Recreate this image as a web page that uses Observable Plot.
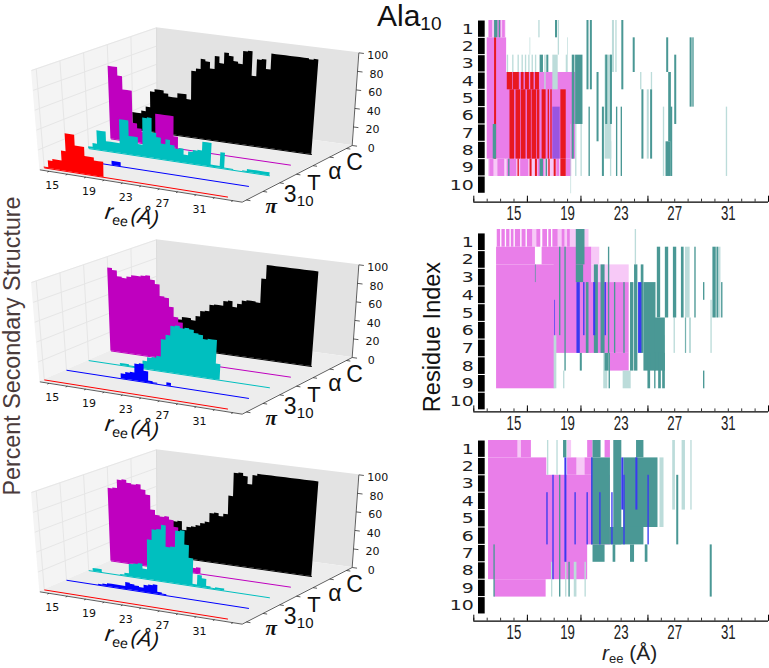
<!DOCTYPE html>
<html><head><meta charset="utf-8">
<script src="https://cdn.jsdelivr.net/npm/d3@7"></script>
<script src="https://cdn.jsdelivr.net/npm/@observablehq/plot@0.6"></script>
<style>
html,body{margin:0;padding:0;background:#fff}
#page{position:relative;width:769px;height:668px;overflow:hidden;font-family:"Liberation Sans",sans-serif}
#page svg{position:absolute;overflow:visible}
.lbl{position:absolute;white-space:nowrap;line-height:1}
</style></head><body><div id="page">
<div class="lbl" style="left:377px;top:1px;font-size:30px;color:#111">Ala<sub style="font-size:19px;vertical-align:-4px;line-height:0">10</sub></div>
<div class="lbl" style="left:13px;top:346px;font-size:23.3px;color:#4a3b3b;transform:translate(-50%,-50%) rotate(-90deg)">Percent Secondary Structure</div>
<div class="lbl" style="left:433px;top:337px;font-size:23.5px;color:#111;transform:translate(-50%,-50%) rotate(-90deg)">Residue Index</div>
<div class="lbl" style="left:602px;top:642px;font-size:21px;color:#222"><i>r</i><sub style="font-size:13px;vertical-align:-3px;line-height:0">ee</sub> (Å)</div>
</div>
<script>
// ---------- Left panels: percent per 0.5 Å bin, r_ee 13..33 ----------
const binStart = 13, binWidth = 0.5;
const structures = ["π","3₁₀","T","α","C"];
const black1=[18,18,21,26,43,46,46,43,40,40,45,45,40,71,74,85,83,76,90,83,95,92,87,85,99,100,74,92,93,83,100,100,100,100,100,100,100,100,99,100];
const magenta1=[77,77,68,54,54,20,15,12,5,5,33,33,33,33,12,0,0,0,0,0,0,0,0,0,0,0,0,0,0,0,0,0,0,0,0,0,0,0,0,0];
const cyan1=[2,6,20,20,10,10,10,35,35,19,19,12,40,41,26,22,16,21,16,13,14,8,12,14,15,24,24,2,2,16,1,1,0,0,1,3,3,3,3,3];
const blue1=[0,0,0,0,0,0,0,0,0,0,4,4,0,0,0,0,0,0,0,0,0,0,0,0,0,0,0,0,0,0,0,0,0,0,0,0,0,0,0,0];
const red1=[1,8,10,10,20,38,38,27,27,18,18,15,15,0,0,0,0,0,0,0,0,0,0,0,0,0,0,0,0,0,0,0,0,0,0,0,0,0,0,0];
const black2=[0,0,0,0,0,5,10,15,20,25,30,33,33,31,36,42,43,50,51,51,56,57,51,55,59,60,60,59,85,100,100,100,100,100,100,100,100,100,100,100];
const magenta2=[88,86,80,79,81,83,83,84,85,81,77,65,64,55,45,40,25,0,0,0,0,0,0,0,0,0,0,0,0,0,0,0,0,0,0,0,0,0,0,0];
const cyan2=[0,0,0,0,0,0,0,2,2,1,1,4,8,12,13,15,33,38,48,49,47,48,47,44,43,39,40,40,16,0,0,0,0,0,0,0,0,0,0,0];
const blue2=[0,0,0,0,0,0,0,0,0,0,0,0,5,7,8,17,18,11,2,1,0,0,3,0,0,0,0,0,0,0,0,0,0,0,0,0,0,0,0,0];
const red2=[0,0,0,0,0,0,0,0,0,0,0,0,0,0,0,0,0,0,0,0,0,0,0,0,0,0,0,0,0,0,0,0,0,0,0,0,0,0,0,0];
const black3=[0,0,0,0,0,10,20,30,35,38,39,30,34,35,37,40,42,52,53,50,53,73,98,99,96,88,98,100,100,100,100,100,100,100,100,100,100,100,100,100];
const magenta3=[77,78,87,88,85,84,85,80,75,60,55,54,55,52,45,27,15,5,5,6,0,0,0,0,0,0,0,0,0,0,0,0,0,0,0,0,0,0,0,0];
const cyan3=[0,3,3,0,0,0,0,1,3,13,14,15,10,41,52,53,58,36,37,54,55,41,28,2,12,9,2,1,2,2,0,0,0,0,0,0,0,0,0,0];
const blue3=[0,0,0,0,0,0,0,1,2,3,3,3,3,7,6,5,4,7,8,9,2,1,0,0,0,0,0,0,0,0,0,0,0,0,0,0,0,0,0,0];
const red3=[0,0,0,0,0,0,0,0,0,0,0,0,0,0,0,0,0,0,0,0,0,0,0,0,0,0,0,0,0,0,0,0,0,0,0,0,0,0,0,0];
const seriesColors=["#ff0000","#0000ff","#00bfbf","#bf00bf","#000000"];
const ree3dTicks=[15,19,23,27,31];
const pctTicks=[0,20,40,60,80,100];

// ---------- Right panels: stripes [r_ee from, r_ee to, residue from, residue to] ----------
const residues=[1,2,3,4,5,6,7,8,9,10];
const reeTicks=[15,19,23,27,31];
const C={pale:"#f7c9f7",pink:"#e97ee9",paleTeal:"#bcdcda",teal:"#4a9895",red:"#e81820",blue:"#3a3af0",purple:"#9a55e0"};
const p1Pale=[[13.1,14.4,1,1],[13.1,14.4,9,9],[14.4,19.3,9,9]];
const p1Pink=[[13.15,13.4,1,1],[13.8,14.05,1,1],[14.15,14.35,1,1],[13.2,13.5,9,9],[13.8,14.3,9,9],[13,14.45,2,8],[14.4,19.6,4,8],[14.5,15.2,9,9],[15.5,16.1,9,9],[16.8,17.3,9,9],[18.2,18.4,9,9],[18.9,19.3,9,9]];
const p1PaleTeal=[[16.85,16.95,1,1],[18.3,18.4,1,2],[22.35,22.5,1,3],[22.6,22.7,1,3],[21.8,22.3,3,8],[16.2,16.25,2,2],[19,19.05,2,3],[15.3,15.4,3,3],[15.6,15.7,3,3],[15.85,15.95,3,3],[16.1,16.2,3,3],[16.35,16.45,3,3],[16.6,16.7,3,3],[14.5,14.6,3,3],[14.9,15,3,3],[17.9,18.3,3,4],[18.9,19,3,3],[17.3,17.4,3,4],[24.95,25.1,5,8],[26.15,26.25,6,9],[30.85,30.95,6,9],[24.45,24.55,4,4],[25.25,25.35,4,4],[19.25,19.3,7,10],[20,20.1,7,9],[19.6,19.7,7,9],[22.2,22.3,8,9]];
const p1Red=[[14.7,15.05,5,8],[15.15,15.5,5,8],[15.55,15.9,5,8],[16,16.3,5,8],[16.35,16.7,5,8],[16.75,16.93,5,8],[14.5,14.9,4,4],[14.95,15.4,4,4],[15.55,15.75,4,4],[15.85,16.15,4,4],[16.25,16.5,4,4],[16.6,16.9,4,4],[17.1,17.4,5,8],[17.55,17.65,5,8],[17.75,17.85,5,8],[18.5,18.9,5,8],[13.55,13.7,2,8],[15.3,15.4,9,9],[16.2,16.35,9,9],[16.6,16.75,9,9],[17.6,17.7,9,9],[18,18.15,9,9],[18.5,18.9,9,9]];
const p1Teal=[[20.45,20.6,1,4],[20.7,20.85,1,4],[23.05,23.2,1,4],[18.1,18.25,1,1],[23.9,24.05,2,3],[26.4,26.55,2,3],[28.15,28.3,2,5],[28.35,28.45,2,5],[27,27.15,3,6],[19.35,19.55,3,6],[19.6,20.15,3,6],[21.2,21.35,4,7],[26.55,26.75,4,7],[24.55,24.7,5,8],[25.2,25.35,5,8],[21.6,21.75,6,9],[20.6,20.7,6,9],[22.65,22.75,6,9],[23,23.1,6,9],[22.2,22.35,3,6],[21.85,22,3,6],[26.7,26.85,6,9],[26.35,26.7,8,9],[16.95,17.2,3,3],[17.45,17.6,3,3],[16.95,17.2,9,9],[13.45,13.7,7,8],[13.55,13.8,1,1],[13.9,14,1,1],[19.35,19.5,7,8],[14.6,14.7,9,9],[17.4,17.5,9,9]];
const p1Blue=[];
const p1Purple=[[17.9,18.45,6,8]];
const p2Pale=[[16.4,16.7,1,1],[18.3,20.6,1,1],[20.8,23.6,3,3],[20.8,21.4,2,2]];
const p2Pink=[[13.75,14,1,1],[14.1,14.35,1,1],[14.45,14.7,1,1],[14.8,15,1,1],[15.1,15.5,1,1],[15.6,15.9,1,1],[16,16.4,1,1],[16.7,17,1,1],[17.15,17.5,1,1],[17.6,17.8,1,1],[17.9,18.3,1,1],[18.6,18.8,1,1],[19,19.2,1,1],[13.7,18.05,3,9],[13.7,16.6,2,2],[17.1,18.05,2,2],[18,20.8,2,7],[20.7,23.6,4,7],[22.2,23.6,8,8]];
const p2PaleTeal=[[21.7,22,8,9],[29.7,29.8,5,7],[18,18.2,7,9],[24.05,24.15,1,2],[27.8,27.9,6,7],[28.1,28.25,6,7],[23.15,23.75,9,9],[27.8,28.15,2,5],[26.95,27.05,6,7],[30.35,30.45,2,5],[26.2,26.3,7,8],[18.7,18.8,9,9]];
const p2Red=[];
const p2Teal=[[19.65,20.3,1,2],[19.65,20.2,3,3],[24.7,25.6,4,8],[25.5,26.3,6,8],[25.7,25.95,2,5],[26.3,26.55,2,5],[26.9,27.15,2,5],[27.5,27.7,2,5],[28.5,28.6,2,5],[29.85,30.1,2,5],[30.15,30.3,2,5],[30.5,30.6,4,5],[22.05,22.15,2,7],[21.5,21.8,3,7],[23.7,23.95,4,8],[24,24.25,3,8],[22.1,22.2,8,9],[25,25.2,8,9],[25.5,25.6,8,9],[25.8,26,8,9],[26.1,26.3,8,9],[29.15,29.25,9,9],[29.15,29.25,4,4],[18.8,18.9,2,8],[19.95,20.1,8,8],[18.4,18.5,2,6],[21,21.3,3,7],[20.4,20.6,4,7],[24.5,24.7,3,7],[23.2,23.3,4,7],[22.5,22.6,4,7],[16.6,16.65,3,3],[21.8,22.1,8,8],[27.8,27.85,6,7]];
const p2Blue=[[19.7,19.95,4,7],[20.95,21.1,4,6],[24.3,24.55,4,7],[20.2,20.3,4,6],[18.05,18.1,5,6],[21.8,21.9,4,6]];
const p2Purple=[];
const p3Pale=[[15.3,15.55,1,1],[19.7,20.3,2,2],[19,19.3,1,1]];
const p3Pink=[[13.1,15.3,1,1],[15.55,16.3,1,1],[13.1,17.45,2,8],[17.4,20.5,3,8],[19,19.7,2,2],[20.3,20.8,2,2],[20.45,22.2,3,6],[13.55,17.4,9,9],[20.5,20.9,1,1],[21.8,22.2,1,1]];
const p3PaleTeal=[[26.85,27.05,1,4],[27.55,27.8,1,4],[28.2,28.3,1,4],[25.9,26.2,2,5],[17.5,17.6,1,2],[18.2,18.3,1,2],[19.5,19.7,8,9],[20.3,20.4,8,9],[17.8,17.9,8,9],[18.85,18.95,8,9],[22.6,22.7,5,6]];
const p3Red=[];
const p3Teal=[[20.8,22.2,2,6],[20.9,21.5,1,1],[22.45,23.05,1,6],[23.2,25.75,2,5],[22.2,24.7,6,6],[24.15,24.7,1,1],[13.5,13.6,7,9],[29.65,29.8,7,9],[27.15,27.3,3,6],[18.7,18.95,1,1],[20.9,21.8,7,7],[22.4,22.6,7,7],[23.7,24,7,7],[24.8,25,7,7],[18.4,18.5,3,9],[19.1,19.2,8,9]];
const p3Blue=[[17.45,17.55,4,6],[17.9,18,3,8],[18.8,18.95,2,7],[19.55,19.65,4,6],[20.45,20.55,4,6],[20.8,20.9,2,6],[21.4,21.5,4,6],[22.3,22.4,4,6],[23.05,23.2,2,4],[23.2,23.3,3,6],[24.1,24.25,2,4],[25,25.1,3,6]];
const p3Purple=[];

const page=document.getElementById("page");
const font="Liberation Sans";

// ---- 3-D view of the box: the eight corners of the axes cube as seen in the picture ----
const reeLim=[13,35], sLim=[-0.2,5.08], pctLim=[0,100];
const corner={A:[118,508],B:[725,605],C:[1055,435],D:[470,355],At:[93,210],Bt:[765,295],Ct:[1075,157],Dt:[468,82]};
const mix=(a,b,t)=>[a[0]+(b[0]-a[0])*t,a[1]+(b[1]-a[1])*t];
function proj(r,s,p){
  const u=(r-reeLim[0])/(reeLim[1]-reeLim[0]), v=(s-sLim[0])/(sLim[1]-sLim[0]), w=p/100;
  const low=mix(mix(corner.A,corner.B,u),mix(corner.D,corner.C,u),v);
  const high=mix(mix(corner.At,corner.Bt,u),mix(corner.Dt,corner.Ct,u),v);
  return mix(low,high,w);
}
const quad=(p,q,r,t,fill)=>Plot.area([[p,t],[q,r]],{x1:d=>d[0][0],y1:d=>d[0][1],x2:d=>d[1][0],y2:d=>d[1][1],fill});
const seg=(a,b,stroke,strokeWidth=1)=>Plot.link([[a,b]],{x1:d=>d[0][0],y1:d=>d[0][1],x2:d=>d[1][0],y2:d=>d[1][1],stroke,strokeWidth});

function panel3d(top,series){
  const [r0,r1]=reeLim,[s0,s1]=sLim;
  const marks=[
    quad(proj(r0,s0,0),proj(r0,s1,0),proj(r0,s1,100),proj(r0,s0,100),"#f4f4f4"),
    quad(proj(r0,s1,0),proj(r1,s1,0),proj(r1,s1,100),proj(r0,s1,100),"#e3e3e3"),
    quad(proj(r0,s0,0),proj(r1,s0,0),proj(r1,s1,0),proj(r0,s1,0),"#ededed")
  ];
  for(const s of [0,1,2,3,4]) marks.push(seg(proj(r0,s,0),proj(r0,s,100),"#e6e6e6",1));
  for(const p of [20,40,60,80,100]) marks.push(seg(proj(r0,s0,p),proj(r0,s1,p),"#e6e6e6",1));
  marks.push(seg(proj(r0,s1,0),proj(r0,s1,100),"#dcdcdc",1));
  // series, back (C) to front (π)
  for(let s=4;s>=0;s--){
    const vals=series[s], pts=[];
    vals.forEach((v,i)=>{
      const a=binStart+i*binWidth,b=a+binWidth;
      pts.push({base:proj(a,s,0),top:proj(a,s,v)},{base:proj(b,s,0),top:proj(b,s,v)});
    });
    marks.push(Plot.area(pts,{x1:d=>d.base[0],y1:d=>d.base[1],x2:d=>d.top[0],y2:d=>d.top[1],fill:seriesColors[s]}));
    marks.push(seg(proj(binStart,s,0),proj(binStart+40*binWidth,s,0),seriesColors[s],1));
  }
  // edges and ticks
  marks.push(seg(proj(r0,s0,0),proj(r1,s0,0),"#333",0.8),seg(proj(r1,s0,0),proj(r1,s1,0),"#333",0.8),seg(proj(r1,s1,0),proj(r1,s1,100),"#333",0.8));
  for(let r=14;r<=34;r+=2) marks.push(seg(proj(r,s0,0),proj(r,s0-0.08,0),"#333",0.8));
  for(const s of [0,0.8,1.6,2.4,3.2,4,4.8]) marks.push(seg(proj(r1,s,0),proj(r1+0.45,s,0),"#333",0.8));
  for(const p of pctTicks) marks.push(seg(proj(r1,s1,p),proj(r1+0.55,s1,p),"#333",0.8));
  const txt=(data,o)=>Plot.text(data,{fontFamily:font,fill:"#111",...o});
  marks.push(txt(ree3dTicks,{x:d=>proj(d,s0,0)[0],y:d=>proj(d,s0,0)[1],text:d=>String(d),dx:-6,dy:13,fontSize:11,fontFamily:"DejaVu Sans"}));
  marks.push(txt(pctTicks,{x:d=>proj(r1,s1,d)[0],y:d=>proj(r1,s1,d)[1],text:d=>String(d),dx:19,dy:3,fontSize:11,fontFamily:"DejaVu Sans"}));
  const right=(s)=>proj(r1,s,0);
  [[4,"C",25,6,23],[3,"α",26,4,23],[2,"T",26,4,22],[1,"3",23,5,23]].forEach(([s,t,dx,dy,fontSize])=>
    marks.push(txt([s],{x:d=>right(d)[0],y:d=>right(d)[1],text:()=>t,dx,dy,fontSize})));
  marks.push(txt([1],{x:d=>right(d)[0],y:d=>right(d)[1],text:()=>"10",dx:38,dy:12,fontSize:15}));
  marks.push(txt([0],{x:d=>right(d)[0],y:d=>right(d)[1],text:()=>"π",dx:25,dy:6,fontSize:21,fontWeight:"bold",fontStyle:"italic",fontFamily:"Liberation Serif"}));
  const mid=proj(24,s0,0);
  marks.push(txt([mid],{x:d=>d[0],y:d=>d[1],text:()=>"r",dx:-32,dy:26,fontSize:23,fontStyle:"italic",rotate:8}));
  marks.push(txt([mid],{x:d=>d[0],y:d=>d[1],text:()=>"ee",dx:-21,dy:35,fontSize:14,rotate:8}));
  marks.push(txt([mid],{x:d=>d[0],y:d=>d[1],text:()=>"(Å)",dx:4,dy:31,fontSize:21,fontStyle:"italic",rotate:8}));
  const svg=Plot.plot({width:400,height:240,margin:0,style:{background:"transparent",overflow:"visible"},
    x:{type:"linear",domain:[0,1200],range:[0,400],axis:null},
    y:{type:"linear",domain:[0,720],range:[0,240],axis:null},marks});
  svg.style.left="0px";svg.style.top=top+"px";
  page.appendChild(svg);
}
panel3d(0,[red1,blue1,cyan1,magenta1,black1]);
panel3d(212,[red2,blue2,cyan2,magenta2,black2]);
panel3d(422,[red3,blue3,cyan3,magenta3,black3]);

// ---- Right panels ----
function stripePanel(cfg){
  const layers=[[cfg.pale,C.pale],[cfg.pink,C.pink],[cfg.paleTeal,C.paleTeal],[cfg.red,C.red],[cfg.teal,C.teal],[cfg.purple,C.purple],[cfg.blue,C.blue]];
  const height=cfg.axisY-cfg.top+30+5;
  const marks=[];
  for(const [rows,fill] of layers) marks.push(Plot.rect(rows,{x1:d=>d[0],x2:d=>d[1],y1:d=>d[2],y2:d=>d[3]+1,fill}));
  const off=cfg.blockOffset;
  marks.push(Plot.rect(residues,{x1:12.35,x2:12.85,y1:d=>d+off+0.03,y2:d=>d+off+0.97,fill:"#000"}));
  marks.push(Plot.text(residues,{x:12,y:d=>d+off+0.5,text:d=>String(d),textAnchor:"end",dx:0,fontSize:14,fontFamily:"DejaVu Sans",fill:"#222",className:"reslab"}));
  marks.push(Plot.ruleY([1+(cfg.axisY-cfg.top)/cfg.rowH],{x1:12,x2:34,stroke:"#000",strokeWidth:1.2}));
  marks.push(Plot.axisX({ticks:d3.range(12,35),tickSize:-3,tickFormat:()=>"",stroke:"#333"}));
  marks.push(Plot.axisX({ticks:[12,16,20,25,34],tickSize:-6,tickFormat:()=>"",stroke:"#000"}));
  marks.push(Plot.axisX(reeTicks,{tickSize:0,tickPadding:4,fontSize:17,fontFamily:"Liberation Sans",fill:"#222",tickFormat:d=>String(d),label:null}));
  const svg=Plot.plot({width:349,height,marginLeft:53.3,marginRight:1,marginTop:5,marginBottom:30,
    style:{background:"transparent",overflow:"visible"},
    x:{type:"linear",domain:[12,34],axis:null},
    y:{type:"linear",domain:[1,1+(cfg.axisY-cfg.top)/cfg.rowH],reverse:true,axis:null},marks});
  svg.style.left="420px";svg.style.top=(cfg.top-5)+"px";
  page.appendChild(svg);
  svg.querySelectorAll(".reslab text, text.reslab").forEach(t=>{
    t.setAttribute("transform",(t.getAttribute("transform")||"")+" scale(1.35,1)");
  });
  svg.querySelectorAll('[aria-label="x-axis tick label"] text').forEach(t=>{
    t.setAttribute("transform",(t.getAttribute("transform")||"")+" scale(0.78,1.15)");
  });
}
stripePanel({top:20,rowH:17.33,axisY:201.7,blockOffset:0,pale:p1Pale,pink:p1Pink,paleTeal:p1PaleTeal,red:p1Red,teal:p1Teal,blue:p1Blue,purple:p1Purple});
stripePanel({top:229.3,rowH:17.7,axisY:411.7,blockOffset:0.22,pale:p2Pale,pink:p2Pink,paleTeal:p2PaleTeal,red:p2Red,teal:p2Teal,blue:p2Blue,purple:p2Purple});
stripePanel({top:440,rowH:17.4,axisY:620.7,blockOffset:0,pale:p3Pale,pink:p3Pink,paleTeal:p3PaleTeal,red:p3Red,teal:p3Teal,blue:p3Blue,purple:p3Purple});
</script></body></html>
